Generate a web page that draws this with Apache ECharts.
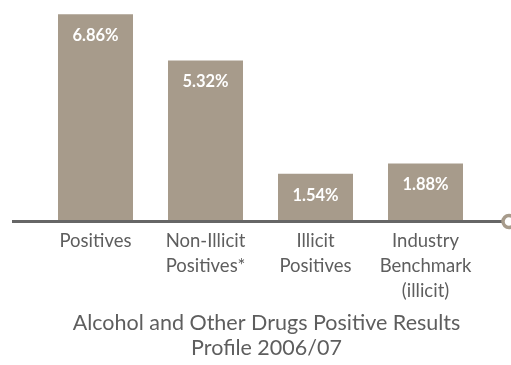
<!DOCTYPE html>
<html>
<head>
<meta charset="utf-8">
<script src="https://cdn.jsdelivr.net/npm/echarts@6/dist/echarts.min.js"></script>
<style>
  html, body { margin: 0; padding: 0; background: #ffffff; }
  #chart { width: 511px; height: 365px; }
</style>
</head>
<body>
<div id="chart"></div>
<script>
// Result categories and their positive rates (%)
const categories = ['Positives', 'Non-Illicit\nPositives*', 'Illicit\nPositives', 'Industry\nBenchmark\n(illicit)'];
const rates = [6.86, 5.32, 1.54, 1.88];
const titleLines = ['Alcohol and Other Drugs Positive Results', 'Profile 2006/07'];

const barColor = '#a79b8b';
const textColor = '#5e5e5e';
const fontFamily = 'Lato, "Open Sans", sans-serif';

const chart = echarts.init(document.getElementById('chart'));

const baseY = 220;

chart.setOption({
  animation: false,
  title: {
    text: titleLines.join('\n'),
    left: 261.5,
    textAlign: 'center',
    top: 306,
    textStyle: {
      fontFamily: fontFamily,
      fontSize: 21.5,
      fontWeight: 'normal',
      color: textColor,
      lineHeight: 25
    }
  },
  grid: {
    left: 40.5,
    right: 30.5,
    top: baseY - 7 * 30,
    bottom: 365 - baseY
  },
  xAxis: {
    type: 'category',
    data: categories,
    axisLine: { show: false },
    axisTick: { show: false },
    axisLabel: {
      interval: 0,
      margin: 9,
      fontFamily: fontFamily,
      fontSize: 18.5,
      lineHeight: 25,
      color: textColor,
      align: 'center',
      verticalAlign: 'top'
    }
  },
  yAxis: {
    type: 'value',
    min: 0,
    max: 7,
    show: false,
    splitLine: { show: false }
  },
  series: [{
    type: 'bar',
    data: rates,
    barWidth: 75,
    itemStyle: { color: barColor },
    label: {
      show: true,
      position: 'insideTop',
      distance: 13,
      formatter: p => p.value.toFixed(2) + '%',
      color: '#ffffff',
      fontFamily: fontFamily,
      fontWeight: 'bold',
      fontSize: 16.5
    }
  }],
  graphic: [
    {
      type: 'line',
      shape: { x1: 12, y1: baseY + 1.5, x2: 502, y2: baseY + 1.5 },
      style: { stroke: '#666666', lineWidth: 3 },
      z: 10
    },
    {
      type: 'circle',
      shape: { cx: 509, cy: baseY + 1.5, r: 6 },
      style: { fill: '#ffffff', stroke: barColor, lineWidth: 3.5 },
      z: 11
    }
  ]
});
</script>
</body>
</html>
